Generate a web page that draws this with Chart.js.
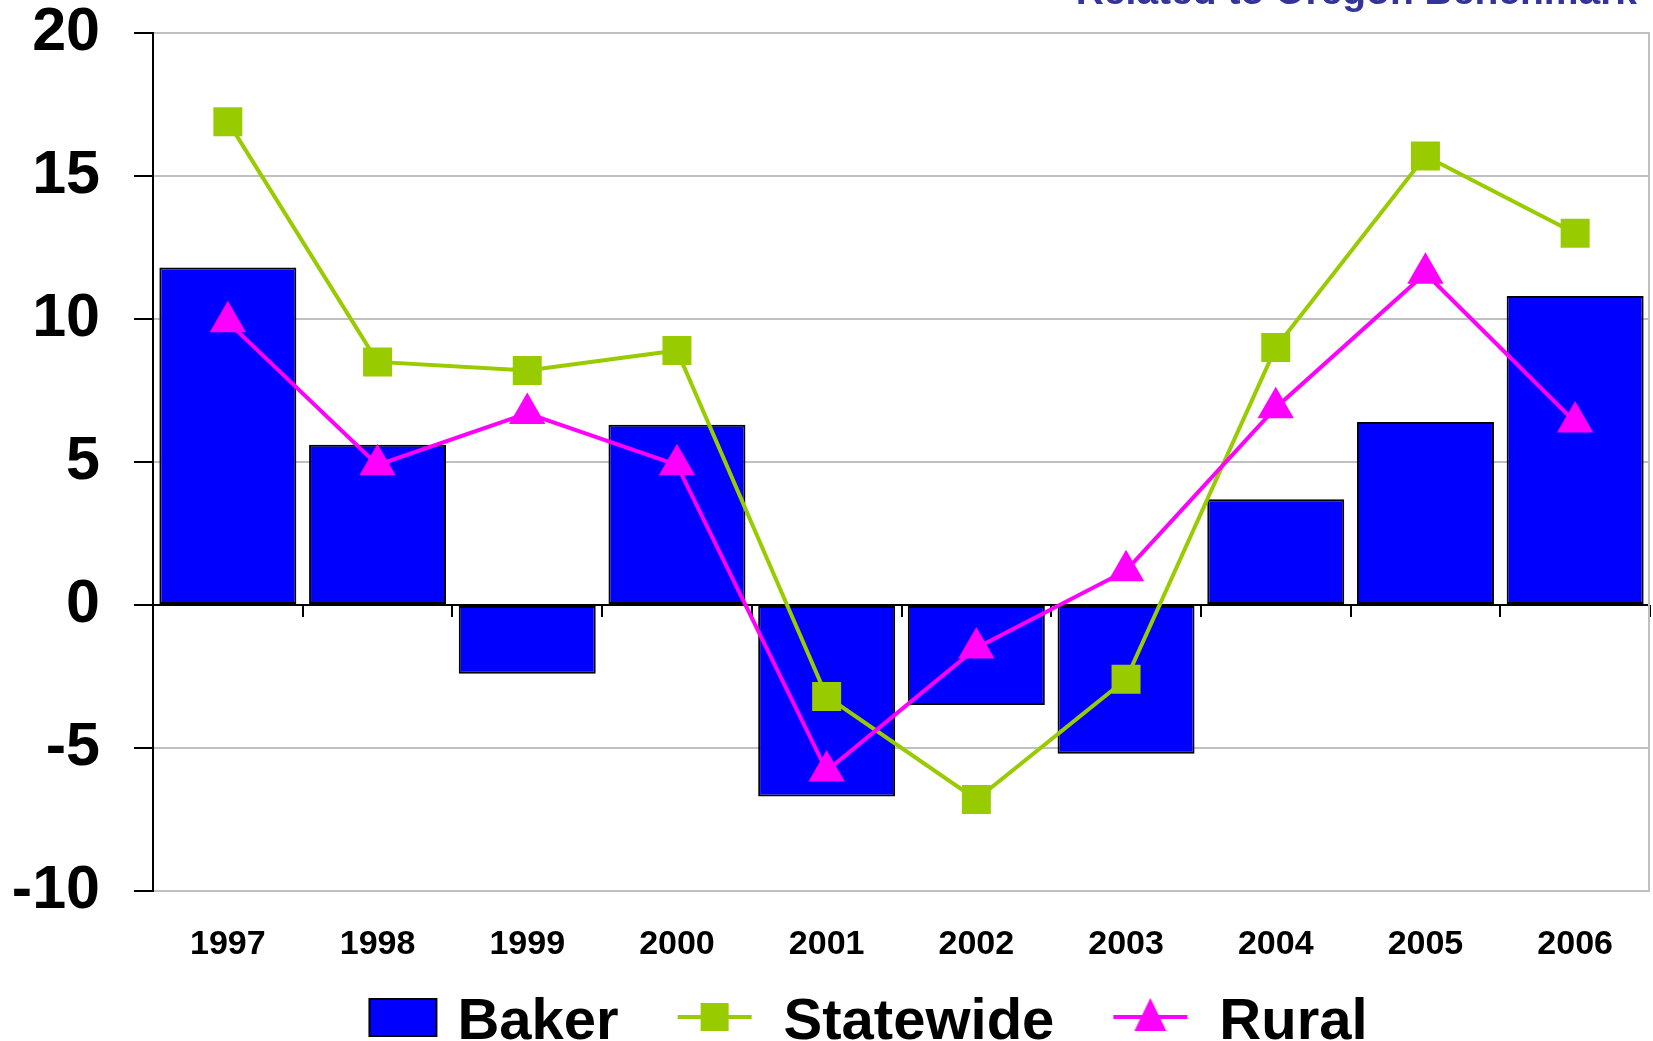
<!DOCTYPE html>
<html>
<head>
<meta charset="utf-8">
<script src="https://cdn.jsdelivr.net/npm/chart.js@4.4.0/dist/chart.umd.min.js"></script>
<style>
  html, body { margin: 0; padding: 0; background: #fff; overflow: hidden; }
  #wrap { width: 1653px; height: 1041px; position: relative; }
</style>
</head>
<body>
<div id="wrap"><canvas id="chart" width="1653" height="1041"></canvas></div>
<script>
'use strict';

/* ── Data ─────────────────────────────────────────────────────────────── */
const YEARS = ['1997', '1998', '1999', '2000', '2001', '2002', '2003', '2004', '2005', '2006'];
const BAKER = [11.8, 5.6, -2.4, 6.3, -6.7, -3.5, -5.2, 3.7, 6.4, 10.8];
const STATEWIDE = [16.9, 8.5, 8.2, 8.9, -3.2, -6.8, -2.6, 9.0, 15.7, 13.0];
const RURAL = [9.9, 4.9, 6.7, 4.9, -5.8, -1.5, 1.2, 6.9, 11.6, 6.4];
const SERIES_NAMES = ['Baker', 'Statewide', 'Rural'];
const Y_MIN = -10, Y_MAX = 20, Y_STEP = 5;
const SUBTITLE = 'Related to Oregon Benchmark';

const FONT = '"Liberation Sans", Arial, sans-serif';
const BLUE = '#0000ff', GREEN = '#99cc00', MAGENTA = '#ff00ff', GRID = '#c0c0c0';

/* ── Legend symbols (drawn into small canvases, used as point styles) ── */
// ICON_W is the legend box width; the canvas hangs PAD px over each side
const ICON_W = 136, PAD = 12, ICON_H = 52;

function legendIcon(kind, color) {
    const c = document.createElement('canvas');
    c.width = ICON_W + 2 * PAD;
    c.height = ICON_H;
    const g = c.getContext('2d');
    const cy = ICON_H / 2 - 6;
    if (kind === 'bar') {
        const x1 = ICON_W + PAD + 8;
        g.fillStyle = color;
        g.fillRect(x1 - 67, cy - 18, 67, 37);
        g.strokeStyle = '#000';
        g.lineWidth = 2;
        g.strokeRect(x1 - 67, cy - 18, 67, 37);
        return c;
    }
    // line through the middle plus the marker
    const x1 = ICON_W + PAD - 3;
    g.strokeStyle = color;
    g.lineWidth = 4;
    g.beginPath();
    g.moveTo(x1 - 74, cy);
    g.lineTo(x1, cy);
    g.stroke();
    g.fillStyle = color;
    const mx = x1 - 37;
    if (kind === 'rect') {
        g.fillRect(mx - 14, cy - 14, 28, 28);
    } else {
        g.beginPath();
        g.moveTo(mx, cy - 19);
        g.lineTo(mx + 16, cy + 14);
        g.lineTo(mx - 16, cy + 14);
        g.closePath();
        g.fill();
    }
    return c;
}

const ICONS = [legendIcon('bar', BLUE), legendIcon('rect', GREEN), legendIcon('triangle', MAGENTA)];

/* ── Small plugins: plot right border + cut-off subtitle ──────────────── */
const frameRight = {
    id: 'frameRight',
    beforeDatasetsDraw(chart) {
        const { ctx, chartArea: a } = chart;
        ctx.save();
        ctx.strokeStyle = GRID;
        ctx.lineWidth = 2;
        ctx.beginPath();
        ctx.moveTo(a.right - 1, a.top);
        ctx.lineTo(a.right - 1, a.bottom);
        ctx.stroke();
        ctx.restore();
    },
};

const subtitle = {
    id: 'subtitle',
    afterDraw(chart) {
        const ctx = chart.ctx;
        ctx.save();
        ctx.font = 'bold 39px ' + FONT;
        ctx.fillStyle = '#333399';
        ctx.textAlign = 'right';
        ctx.textBaseline = 'alphabetic';
        ctx.fillText(SUBTITLE, 1637, 4);
        ctx.restore();
    },
};

/* ── Chart ────────────────────────────────────────────────────────────── */
const ctx = document.getElementById('chart').getContext('2d');
new Chart(ctx, {
    data: {
        labels: YEARS,
        datasets: [
            {
                type: 'bar',
                label: SERIES_NAMES[0],
                data: BAKER,
                backgroundColor: BLUE,
                borderColor: '#000',
                borderWidth: 2,
                borderSkipped: false,
                barPercentage: 0.915,
                categoryPercentage: 1,
                order: 3,
            },
            {
                type: 'line',
                label: SERIES_NAMES[1],
                data: STATEWIDE,
                borderColor: GREEN,
                backgroundColor: GREEN,
                borderWidth: 4,
                pointStyle: 'rect',
                pointRadius: 20.5,
                pointBorderWidth: 0,
                tension: 0,
                order: 2,
            },
            {
                type: 'line',
                label: SERIES_NAMES[2],
                data: RURAL,
                borderColor: MAGENTA,
                backgroundColor: MAGENTA,
                borderWidth: 4,
                pointStyle: 'triangle',
                pointRadius: 21,
                pointBorderWidth: 0,
                tension: 0,
                order: 1,
            },
        ],
    },
    options: {
        responsive: false,
        animation: false,
        devicePixelRatio: 1,
        // big markers would otherwise reserve extra room at the plot edges
        layout: { autoPadding: false, padding: { left: 10, right: 3, top: 33, bottom: -21 } },
        plugins: {
            tooltip: { enabled: false },
            legend: {
                position: 'bottom',
                labels: {
                    usePointStyle: true,
                    pointStyleWidth: ICON_W,
                    padding: 0,
                    color: '#000',
                    font: { family: FONT, size: 58, weight: 'bold' },
                    generateLabels: () => SERIES_NAMES.map((name, i) => ({
                        text: name,
                        pointStyle: ICONS[i],
                        fillStyle: 'transparent',
                        strokeStyle: 'transparent',
                        lineWidth: 0,
                        hidden: false,
                        datasetIndex: i,
                    })),
                },
            },
        },
        scales: {
            x: {
                type: 'category',
                position: 'bottom',
                offset: true,
                // grid hidden; tickLength only pushes the labels down
                grid: { display: false, drawTicks: true, tickLength: 33 },
                border: { display: false },
                ticks: {
                    color: '#000',
                    padding: 0,
                    maxRotation: 0,
                    autoSkip: false,
                    font: { family: FONT, size: 34, weight: 'bold' },
                },
                afterFit: s => { s.height = 103; },
            },
            // tick marks hanging under the zero line
            x0: {
                type: 'category',
                axis: 'x',
                position: { y: 0 },
                offset: true,
                grid: { drawOnChartArea: false, drawTicks: true, tickLength: 12, color: '#000', lineWidth: 2, offset: true },
                border: { display: false },
                ticks: { display: false },
            },
            y: {
                min: Y_MIN,
                max: Y_MAX,
                grid: {
                    color: c => (c.tick && c.tick.value === 0 ? '#000' : GRID),
                    lineWidth: 2,
                    tickColor: '#000',
                    tickLength: 19,
                    tickWidth: 2,
                },
                border: { color: '#000', width: 2 },
                ticks: {
                    stepSize: Y_STEP,
                    color: '#000',
                    padding: 34,
                    font: { family: FONT, size: 61, weight: 'bold' },
                },
                // fixed axis width; let the end labels overhang the plot edges
                afterFit: s => { s.width = 143; s.paddingTop = 0; s.paddingBottom = 0; },
            },
        },
    },
    plugins: [frameRight, subtitle],
});
</script>
</body>
</html>
